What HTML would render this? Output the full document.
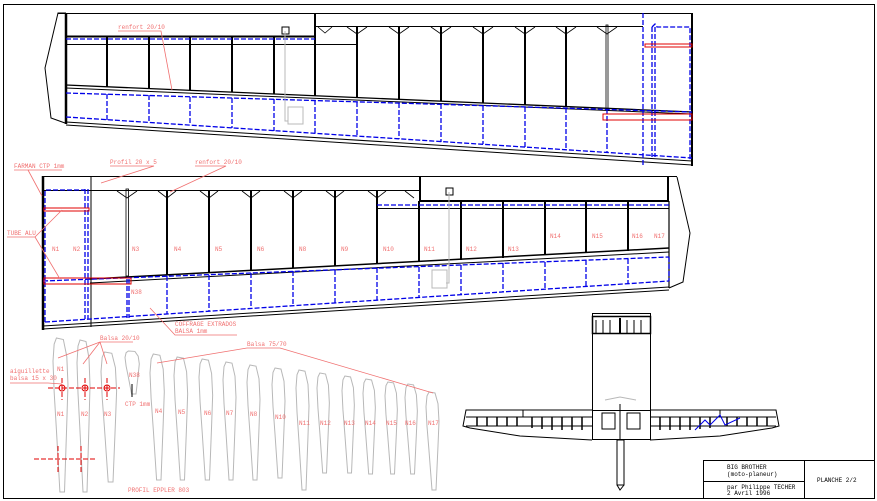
<!DOCTYPE html>
<html><head><meta charset="utf-8"><style>
html,body{margin:0;padding:0;background:#fff}
svg{display:block}
text{font-family:"Liberation Mono",monospace;font-size:6px;fill:#f07070}
.k{stroke:#000;fill:none}
.b{stroke:#0000e8;fill:none;stroke-dasharray:5 2;stroke-width:1.3}
.g{stroke:#b8b8b8;fill:none}
.r{stroke:#f07070;fill:none;stroke-width:.8}
.rd{stroke:#e00000;fill:none;stroke-width:1}
</style></head><body>
<svg width="877" height="501" viewBox="0 0 877 501" xmlns="http://www.w3.org/2000/svg">
<defs>
<path id="rib" d="M3,0 L9,1 L12,12 L13,30 L12,55 L10,100 L6,100 L3,60 L1,35 L0,15 L1,4 Z" class="g" vector-effect="non-scaling-stroke"/>
</defs>
<rect x="3.5" y="4.5" width="871" height="494" class="k" stroke-width="1"/>

<!-- ===== TOP WING ===== -->
<g class="k">
<polyline points="66,13 58,13 45,68 51,118 65,123" stroke-width="1"/>
<line x1="58" y1="13.5" x2="692" y2="13.5" stroke-width="1"/>
<line x1="692" y1="13" x2="692" y2="166" stroke-width="2"/>
<line x1="66" y1="13" x2="66" y2="124" stroke-width="2.5"/>
<line x1="315" y1="13" x2="315" y2="37" stroke-width="2"/>
<line x1="66" y1="36.5" x2="315" y2="36.5" stroke-width="2"/>
<line x1="315" y1="26.5" x2="643" y2="26.5" stroke-width="1"/>
<line x1="66" y1="44.5" x2="357" y2="44.5" stroke-width="1"/>
<polyline points="66,85 692,112" stroke-width="1.3"/>
<polyline points="66,88 692,114" stroke-width="1"/>
<polyline points="66,122 692,161" stroke-width="1"/>
<polyline points="66,125 692,165" stroke-width="1"/>
</g>
<g class="k" stroke-width="2">
<line x1="107" y1="36" x2="107" y2="87"/><line x1="149" y1="36" x2="149" y2="89"/>
<line x1="190" y1="36" x2="190" y2="90"/><line x1="232" y1="36" x2="232" y2="92"/>
<line x1="274" y1="36" x2="274" y2="94"/><line x1="315" y1="36" x2="315" y2="96"/>
<line x1="357" y1="26" x2="357" y2="98"/><line x1="399" y1="26" x2="399" y2="99"/>
<line x1="441" y1="26" x2="441" y2="101"/><line x1="483" y1="26" x2="483" y2="103"/>
<line x1="525" y1="26" x2="525" y2="105"/><line x1="566" y1="26" x2="566" y2="107"/>
</g>
<rect x="606" y="25" width="2" height="84" class="k" stroke-width="0.8"/>
<g class="k" stroke-width="0.8">
<polyline points="318,27 325,33 332,27"/><polyline points="347,27 357,34 367,27"/>
<polyline points="389,27 399,34 409,27"/><polyline points="431,27 441,34 451,27"/>
<polyline points="473,27 483,34 493,27"/><polyline points="515,27 525,34 535,27"/>
<polyline points="556,27 566,34 576,27"/><polyline points="597,27 607,34 617,27"/>
</g>
<g class="b">
<line x1="66" y1="39" x2="315" y2="39"/>
<polyline points="652,27 655,24 657,27 690,27 690,160"/>
<line x1="643" y1="13" x2="643" y2="165"/>
<line x1="652" y1="27" x2="652" y2="157"/><line x1="655" y1="27" x2="655" y2="157"/>
<polyline points="66,93 692,112"/>
<polyline points="66,117 692,158"/>
</g>
<g class="b" stroke-width="2" stroke-dasharray="6 2">
<line x1="107" y1="94" x2="107" y2="120"/><line x1="149" y1="95" x2="149" y2="122"/>
<line x1="190" y1="97" x2="190" y2="125"/><line x1="232" y1="98" x2="232" y2="128"/>
<line x1="274" y1="99" x2="274" y2="131"/><line x1="315" y1="100" x2="315" y2="133"/>
<line x1="357" y1="102" x2="357" y2="136"/><line x1="399" y1="103" x2="399" y2="139"/>
<line x1="441" y1="104" x2="441" y2="142"/><line x1="483" y1="106" x2="483" y2="144"/>
<line x1="525" y1="107" x2="525" y2="147"/><line x1="566" y1="108" x2="566" y2="150"/>
<line x1="607" y1="109" x2="607" y2="152"/>
</g>
<rect x="645" y="44" width="47" height="3" class="rd"/>
<rect x="603" y="114" width="89" height="6" class="rd"/>
<rect x="282" y="27" width="7" height="7" class="k" stroke-width="1"/>
<polyline points="285,31 285,121 288,121" class="g"/>
<rect x="288" y="107" width="15" height="17" class="g"/>
<text x="118" y="29">renfort 20/10</text>
<polyline points="118,31 161,31 172,90" class="r"/>

<!-- ===== SECOND WING ===== -->
<g class="k">
<line x1="43" y1="176.5" x2="677" y2="176.5" stroke-width="1"/>
<polyline points="677,177 690,233 683,282 669,288" stroke-width="1"/>
<line x1="43" y1="176" x2="43" y2="330" stroke-width="2.5"/>
<line x1="91" y1="176" x2="91" y2="327" stroke-width="1"/>
<line x1="43" y1="190.5" x2="420" y2="190.5" stroke-width="1"/>
<line x1="420" y1="176" x2="420" y2="202" stroke-width="2"/>
<line x1="668" y1="176" x2="668" y2="202" stroke-width="2"/>
<line x1="420" y1="201" x2="669" y2="201" stroke-width="2"/>
<line x1="377" y1="208.5" x2="669" y2="208.5" stroke-width="1"/>
<polyline points="90,279 669,248" stroke-width="1.5"/>
<polyline points="90,283 669,252" stroke-width="1"/>
<polyline points="43,326 669,287" stroke-width="1"/>
<polyline points="43,329 669,290" stroke-width="1"/>
<line x1="669" y1="201" x2="669" y2="288" stroke-width="1.2"/>
</g>
<rect x="126" y="189" width="2.5" height="87" class="k" stroke-width="0.8"/>
<g class="k" stroke-width="2">
<line x1="167" y1="190" x2="167" y2="275"/><line x1="209" y1="190" x2="209" y2="273"/>
<line x1="251" y1="190" x2="251" y2="270"/><line x1="293" y1="190" x2="293" y2="268"/>
<line x1="335" y1="190" x2="335" y2="266"/><line x1="377" y1="190" x2="377" y2="264"/>
<line x1="419" y1="201" x2="419" y2="262"/><line x1="461" y1="201" x2="461" y2="260"/>
<line x1="503" y1="201" x2="503" y2="258"/><line x1="545" y1="201" x2="545" y2="255"/>
<line x1="586" y1="201" x2="586" y2="253"/><line x1="628" y1="201" x2="628" y2="251"/>
</g>
<g class="k" stroke-width="0.8">
<polyline points="117,191 127,198 137,191"/><polyline points="158,191 167,198 176,191"/>
<polyline points="200,191 209,198 218,191"/><polyline points="242,191 251,198 260,191"/>
<polyline points="284,191 293,198 302,191"/><polyline points="326,191 335,198 344,191"/>
<polyline points="368,191 377,198 386,191"/><polyline points="405,191 414,198"/>
</g>
<g class="b">
<polyline points="45,322 45,190 85,190"/>
<line x1="85" y1="189" x2="85" y2="319"/><line x1="88" y1="189" x2="88" y2="319"/>
<line x1="127" y1="279" x2="127" y2="318"/><line x1="129" y1="279" x2="129" y2="318"/>
<line x1="377" y1="205" x2="669" y2="205"/>
<polyline points="43,281 669,257"/>
<polyline points="45,322 669,281"/>
</g>
<g class="b" stroke-width="2" stroke-dasharray="6 2">
<line x1="167" y1="276" x2="167" y2="314"/><line x1="209" y1="275" x2="209" y2="311"/>
<line x1="251" y1="273" x2="251" y2="308"/><line x1="293" y1="271" x2="293" y2="306"/>
<line x1="335" y1="270" x2="335" y2="303"/><line x1="377" y1="268" x2="377" y2="300"/>
<line x1="419" y1="267" x2="419" y2="297"/><line x1="461" y1="265" x2="461" y2="295"/>
<line x1="503" y1="263" x2="503" y2="292"/><line x1="545" y1="262" x2="545" y2="289"/>
<line x1="586" y1="260" x2="586" y2="286"/><line x1="628" y1="259" x2="628" y2="284"/>
<line x1="669" y1="257" x2="669" y2="281"/>
</g>
<rect x="44" y="208" width="45" height="3" class="rd"/>
<rect x="44" y="278" width="87" height="6" class="rd"/>
<rect x="446" y="188" width="7" height="7" class="k" stroke-width="1"/>
<polyline points="449,192 449,283 446,283" class="g"/>
<rect x="432" y="270" width="15" height="18" class="g"/>
<g>
<text x="52" y="251">N1</text><text x="73" y="251">N2</text><text x="132" y="251">N3</text>
<text x="174" y="251">N4</text><text x="215" y="251">N5</text><text x="257" y="251">N6</text>
<text x="299" y="251">N8</text><text x="341" y="251">N9</text><text x="383" y="251">N10</text>
<text x="424" y="251">N11</text><text x="466" y="251">N12</text><text x="508" y="251">N13</text>
<text x="550" y="238">N14</text><text x="592" y="238">N15</text><text x="632" y="238">N16</text><text x="654" y="238">N17</text>
<text x="131" y="294">N38</text>
<text x="14" y="168">FARMAN CTP 1mm</text><polyline points="14,170 62,170" class="r"/>
<polyline points="28,170 42,196" class="r"/>
<text x="110" y="164">Profil 20 x 5</text><polyline points="110,166 154,166 101,183" class="r"/>
<text x="195" y="164">renfort 20/10</text><polyline points="195,166 226,166 170,192" class="r"/>
<text x="7" y="235">TUBE ALU</text><polyline points="7,237 35,237 62,210" class="r"/><polyline points="35,237 60,279" class="r"/>
<text x="175" y="326">COFFRAGE EXTRADOS</text><text x="175" y="333">BALSA 1mm</text>
<polyline points="237,335 175,335 150,308" class="r"/>
</g>

<!-- ===== PROFILES ===== -->
<g>
<use href="#rib" transform="translate(53,338) scale(1.15,1.54)"/>
<use href="#rib" transform="translate(77,340) scale(1.0,1.52)"/>
<use href="#rib" transform="translate(101,352) scale(1.2,1.3)"/>
<use href="#rib" transform="translate(125,351) scale(1.1,0.43)"/>
<use href="#rib" transform="translate(150,354) scale(1.1,1.26)"/>
<use href="#rib" transform="translate(174,357) scale(1.05,1.23)"/>
<use href="#rib" transform="translate(199,359) scale(1.05,1.21)"/>
<use href="#rib" transform="translate(223,362) scale(1.0,1.18)"/>
<use href="#rib" transform="translate(247,365) scale(1.0,1.15)"/>
<use href="#rib" transform="translate(272,368) scale(1.0,1.1)"/>
<use href="#rib" transform="translate(296,370) scale(1.0,1.2)"/>
<use href="#rib" transform="translate(317,373) scale(0.95,1.0)"/>
<use href="#rib" transform="translate(342,376) scale(0.95,0.97)"/>
<use href="#rib" transform="translate(363,379) scale(0.95,0.95)"/>
<use href="#rib" transform="translate(385,382) scale(0.95,0.92)"/>
<use href="#rib" transform="translate(405,384) scale(0.95,0.9)"/>
<use href="#rib" transform="translate(426,392) scale(1.0,0.98)"/>
</g>
<g class="rd" stroke-dasharray="5 2">
<line x1="48" y1="388" x2="120" y2="388"/>
<line x1="62" y1="378" x2="62" y2="400"/><line x1="85" y1="378" x2="85" y2="400"/><line x1="107" y1="378" x2="107" y2="400"/>
<line x1="34" y1="459" x2="97" y2="459"/>
<line x1="58" y1="446" x2="58" y2="472"/><line x1="81" y1="446" x2="81" y2="472"/>
</g>
<circle cx="62" cy="388" r="3" class="rd"/><circle cx="85" cy="388" r="3" class="rd"/><circle cx="107" cy="388" r="3" class="rd"/>
<line x1="132" y1="384" x2="132" y2="397" class="k"/>
<g>
<text x="100" y="340">Balsa 20/10</text><polyline points="100,342 133,342" class="r"/>
<polyline points="100,342 58,358" class="r"/><polyline points="100,342 83,364" class="r"/><polyline points="100,342 107,364" class="r"/>
<text x="247" y="346">Balsa 75/70</text><polyline points="157,363 247,348 280,348 433,393" class="r"/>
<text x="57" y="371">N1</text><text x="129" y="377">N38</text>
<text x="10" y="373">aiguillette</text><text x="10" y="380">balsa 15 x 30</text>
<polyline points="10,383 48,383 62,384" class="r"/>
<text x="125" y="406">CTP 1mm</text>
<text x="57" y="416">N1</text><text x="81" y="416">N2</text><text x="104" y="416">N3</text>
<text x="155" y="413">N4</text><text x="178" y="414">N5</text><text x="204" y="415">N6</text>
<text x="226" y="415">N7</text><text x="250" y="416">N8</text><text x="275" y="419">N10</text>
<text x="299" y="425">N11</text><text x="320" y="425">N12</text><text x="344" y="425">N13</text>
<text x="365" y="425">N14</text><text x="386" y="425">N15</text><text x="405" y="425">N16</text><text x="428" y="425">N17</text>
<text x="128" y="492">PROFIL EPPLER 803</text>
</g>

<!-- ===== PLAN VIEW ===== -->
<g class="k" stroke-width="1">
<rect x="592.5" y="313.5" width="58" height="97"/>
<rect x="592.5" y="316.5" width="58" height="17" stroke-width="1.5"/>
<line x1="596" y1="320" x2="596" y2="333"/><line x1="603" y1="320" x2="603" y2="333"/><line x1="610" y1="320" x2="610" y2="333"/>
<line x1="620" y1="318" x2="620" y2="334" stroke-width="2"/><line x1="627" y1="320" x2="627" y2="333"/><line x1="634" y1="320" x2="634" y2="333"/><line x1="641" y1="320" x2="641" y2="333"/>
<rect x="592.5" y="410.5" width="58" height="29"/>
<polyline points="592,410 466,410 463,426 470,428 520,436 592,440"/>
<polyline points="650,410 776,410 779,426 772,428 720,436 650,440"/>
<line x1="466" y1="417" x2="592" y2="417"/><line x1="650" y1="417" x2="776" y2="417"/>
<line x1="466" y1="426" x2="592" y2="426"/><line x1="650" y1="426" x2="776" y2="426"/>
<line x1="523" y1="410" x2="523" y2="417"/><line x1="720" y1="410" x2="720" y2="417"/>
<rect x="602" y="413" width="13" height="16"/><rect x="627" y="413" width="13" height="16"/>
<rect x="617" y="440" width="7" height="45"/>
<polyline points="617,485 620,490 624,485"/>
<line x1="620" y1="404" x2="620" y2="440"/>
</g>
<g class="k" stroke-width="1.5">
<line x1="477" y1="417" x2="477" y2="426"/><line x1="487" y1="417" x2="487" y2="426"/><line x1="497" y1="417" x2="497" y2="426"/><line x1="507" y1="417" x2="507" y2="426"/><line x1="517" y1="417" x2="517" y2="426"/>
<line x1="532" y1="417" x2="532" y2="428"/><line x1="542" y1="417" x2="542" y2="429"/><line x1="552" y1="417" x2="552" y2="430"/><line x1="562" y1="417" x2="562" y2="430"/><line x1="572" y1="417" x2="572" y2="430"/><line x1="582" y1="417" x2="582" y2="430"/>
<line x1="660" y1="417" x2="660" y2="430"/><line x1="670" y1="417" x2="670" y2="430"/><line x1="680" y1="417" x2="680" y2="430"/><line x1="690" y1="417" x2="690" y2="430"/><line x1="700" y1="417" x2="700" y2="429"/><line x1="710" y1="417" x2="710" y2="428"/>
<line x1="727" y1="417" x2="727" y2="426"/><line x1="737" y1="417" x2="737" y2="426"/><line x1="747" y1="417" x2="747" y2="426"/><line x1="757" y1="417" x2="757" y2="426"/><line x1="767" y1="417" x2="767" y2="426"/>
</g>
<polyline points="605,400 620,397 636,400 M620,392 L620,404" class="g"/>
<polyline points="695,430 705,420 710,425 720,415 725,425 740,418" stroke="#0000e8" fill="none"/>

<!-- title block -->
<g class="k" stroke-width="1">
<rect x="703.5" y="460.5" width="171" height="38"/>
<line x1="804.5" y1="460" x2="804.5" y2="499"/>
<line x1="703" y1="481.5" x2="804" y2="481.5"/>
</g>
<g style="fill:#000">
<text x="727" y="469" style="fill:#000">BIG  BROTHER</text>
<text x="727" y="476" style="fill:#000">(moto-planeur)</text>
<text x="727" y="489" style="fill:#000">par  Philippe TECHER</text>
<text x="727" y="495" style="fill:#000">2 Avril 1996</text>
<text x="817" y="482" style="fill:#000">PLANCHE  2/2</text>
</g>
</svg>
</body></html>
